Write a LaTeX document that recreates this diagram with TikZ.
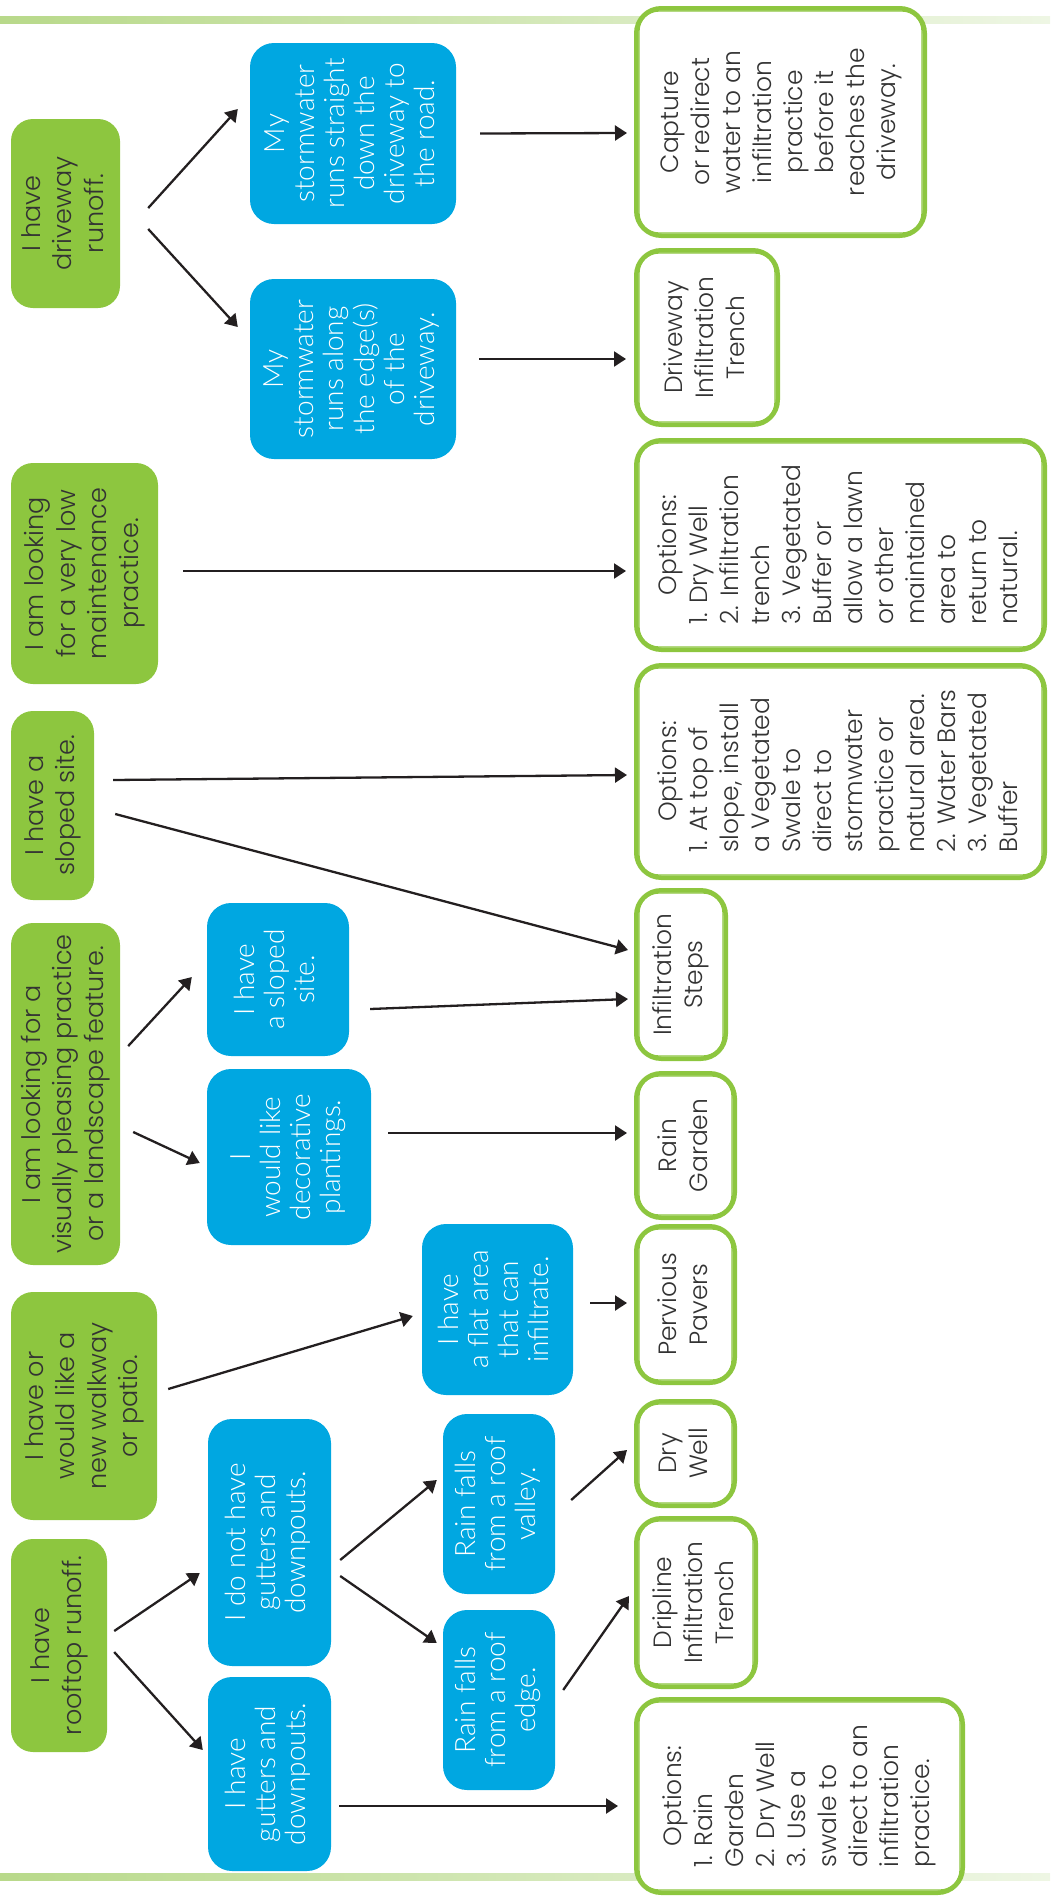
\documentclass[tikz,border=0pt]{standalone}
\usepackage{fontspec}
\setmainfont{Poppins Light}
\newfontfamily\bluefont{Lato Light}
\usetikzlibrary{arrows.meta,calc}
\definecolor{lgreen}{HTML}{8DC63F}
\definecolor{lblue}{HTML}{00A7E1}
\definecolor{ink}{HTML}{333333}
\definecolor{arrc}{HTML}{231F20}
\definecolor{barL}{HTML}{B8D98A}
\definecolor{barM}{HTML}{C6E1A3}
\definecolor{barR}{HTML}{EEF6E4}
\newcommand\vtext[2][c]{\rotatebox{90}{\begin{tabular}{@{}#1@{}}#2\end{tabular}}}
\begin{document}
\begin{tikzpicture}[x=1pt,y=-1pt,
  sz/.style 2 args={minimum width=#1pt, minimum height=#2pt},
  gbox/.style={fill=lgreen, rounded corners=22pt, inner sep=0pt, text=ink,
    font=\fontsize{25.5}{31.5}\selectfont},
  bbox/.style={fill=lblue, rounded corners=24pt, inner sep=0pt, text=white,
    font=\bluefont\fontsize{28}{30}\selectfont},
  obox/.style={draw=lgreen, line width=4.5pt, fill=white, rounded corners=25pt,
    inner sep=0pt, text=ink, font=\fontsize{25}{31}\selectfont},
  inline/.style={draw=lgreen, line width=1.3pt, rounded corners=20pt},
  conn/.style={draw=arrc, line width=2.3pt, -{Triangle[length=12pt,width=15pt]}},
]
\useasboundingbox (0,0) rectangle (1050,1896);
% bars
\shade[left color=barL, middle color=barM, right color=barR] (0,16.5) rectangle (1050,23.5);
\shade[left color=barL, middle color=barM, right color=barR] (0,1873) rectangle (1050,1880);

% green question boxes
\node[gbox, sz={109}{189}] (g1) at (65.5,213.5) {\vtext{I have\\driveway\\runoff.}};
\node[gbox, sz={147}{221}] (g2) at (84.5,573.5) {\vtext{I am looking\\for a very low\\maintenance\\practice.}};
\node[gbox, sz={83}{189}] (g3) at (52.5,805.5) {\vtext{I have a\\sloped site.}};
\node[gbox, sz={109}{342}] (g4) at (65.5,1094) {\vtext{I am looking for a\\visually pleasing practice\\or a landscape feature.}};
\node[gbox, sz={146}{228}] (g5) at (84,1406) {\vtext{I have or\\would like a\\new walkway\\or patio.}};
\node[gbox, sz={96}{213}] (g6) at (59,1645.5) {\vtext{I have\\rooftop runoff.}};

% blue condition boxes
\node[bbox, sz={206}{181}] (b1) at (353,133.5) {\vtext{My\\stormwater\\runs straight\\down the\\driveway to\\the road.}};
\node[bbox, sz={206}{180}] (b2) at (353,369) {\vtext{My\\stormwater\\runs along\\the edge(s)\\of the\\driveway.}};
\node[bbox, sz={142}{153}] (b3) at (278,979.5) {\vtext{I have\\a sloped\\site.}};
\node[bbox, sz={164}{176}] (b4) at (289,1157) {\vtext{I\\would like\\decorative\\plantings.}};
\node[bbox, sz={151}{171}] (b5) at (497.5,1309.5) {\vtext{I have\\a flat area\\that can\\infiltrate.}};
\node[bbox, sz={123}{247}] (b6) at (269.5,1542.5) {\vtext{I do not have\\gutters and\\downpouts.}};
\node[bbox, sz={123}{194}] (b7) at (269.5,1774) {\vtext{I have\\gutters and\\downpouts.}};
\node[bbox, sz={112}{180}] (b8) at (499,1504) {\vtext{Rain falls\\from a roof\\valley.}};
\node[bbox, sz={112}{180}] (b9) at (499,1700) {\vtext{Rain falls\\from a roof\\edge.}};

% outcome boxes
\node[obox, sz={288.5}{227.5}] (o1) at (780.5,122) {\vtext{Capture\\or redirect\\water to an\\infiltration\\practice\\before it\\reaches the\\driveway.}};
\node[obox, sz={141.5}{174.5}] (o2) at (707,337.5) {\vtext{Driveway\\Infiltration\\Trench}};
\node[obox, sz={408.5}{209.5}] (o3) at (840.5,545) {\vtext[l]{\multicolumn{1}{@{}c@{}}{Options:}\\1. Dry Well\\2. Infiltration\\trench\\3. Vegetated\\Buffer or\\allow a lawn\\or other\\maintained\\area to\\return to\\natural.}};
\node[obox, sz={408.5}{212.5}] (o4) at (840.5,771.5) {\vtext[l]{\multicolumn{1}{@{}c@{}}{Options:}\\1. At top of\\slope, install\\a Vegetated\\Swale to\\direct to\\stormwater\\practice or\\natural area.\\2. Water Bars\\3. Vegetated\\Buffer}};
\node[obox, sz={89.5}{168.5}] (o5) at (681,974.5) {\vtext{Infiltration\\Steps}};
\node[obox, sz={98.5}{144.5}] (o6) at (685.5,1145.5) {\vtext{Rain\\Garden}};
\node[obox, sz={98.5}{156.5}] (o7) at (685.5,1304.5) {\vtext{Pervious\\Pavers}};
\node[obox, sz={98.5}{104.5}] (o8) at (685.5,1453.5) {\vtext{Dry\\Well}};
\node[obox, sz={119.5}{168.5}] (o9) at (696,1602.5) {\vtext{Dripline\\Infiltration\\Trench}};
\node[obox, sz={326.5}{193.5}] (o10) at (799.5,1796) {\vtext[l]{\multicolumn{1}{@{}c@{}}{Options:}\\1. Rain\\Garden\\2. Dry Well\\3. Use a\\swale to\\direct to an\\infiltration\\practice.}};

\foreach \n in {o1,o2,o3,o4,o5,o6,o7,o8,o9,o10}
  \draw[inline] ([shift={(5pt,-5pt)}]\n.north west) rectangle ([shift={(-5pt,5pt)}]\n.south east);

% connectors
\draw[conn] ($(g1.east)+(28,-5.5)$) -- ($(b1.west)+(-12,-24.5)$);
\draw[conn] ($(g1.east)+(28,15.5)$) -- ($(b2.west)+(-12,-42)$);
\draw[conn] ($(b1.east)+(24,0)$) -- ($(o1.west)+(-7,11)$);
\draw[conn] ($(b2.east)+(23,-10)$) -- ($(o2.west)+(-8,21.5)$);
\draw[conn] ($(g2.east)+(25,-2.5)$) -- ($(o3.west)+(-8,26)$);
\draw[conn] ($(g3.east)+(19,-25.5)$) -- ($(o4.west)+(-7,3.5)$);
\draw[conn] ($(g3.east)+(21,8.5)$) -- ($(o5.west)+(-6,-24.5)$);
\draw[conn] ($(g4.east)+(8,-48)$) -- ($(b3.west)+(-15,-2.5)$);
\draw[conn] ($(g4.east)+(13,38)$) -- ($(b4.west)+(-7,6)$);
\draw[conn] ($(b3.east)+(21,29.5)$) -- ($(o5.west)+(-6,24.5)$);
\draw[conn] ($(b4.east)+(17,-24)$) -- ($(o6.west)+(-7,-12.5)$);
\draw[conn] ($(g5.east)+(11,-17)$) -- ($(b5.west)+(-9,6.5)$);
\draw[conn] ($(b5.east)+(17,-6.5)$) -- ($(o7.west)+(-7,-1.5)$);
\draw[conn] ($(g6.east)+(7,-14.5)$) -- ($(b6.west)+(-8,30.5)$);
\draw[conn] ($(g6.east)+(7,6.5)$) -- ($(b7.west)+(-5,-24)$);
\draw[conn] ($(b6.east)+(9,17.5)$) -- ($(b8.west)+(-6,-24)$);
\draw[conn] ($(b6.east)+(9,33.5)$) -- ($(b9.west)+(-6,-57)$);
\draw[conn] ($(b7.east)+(8,32)$) -- ($(o10.west)+(-16,10)$);
\draw[conn] ($(b8.east)+(16,-4)$) -- ($(o8.west)+(-7,-3.5)$);
\draw[conn] ($(b9.east)+(8,-10)$) -- ($(o9.west)+(-5,-6.5)$);
\end{tikzpicture}
\end{document}
